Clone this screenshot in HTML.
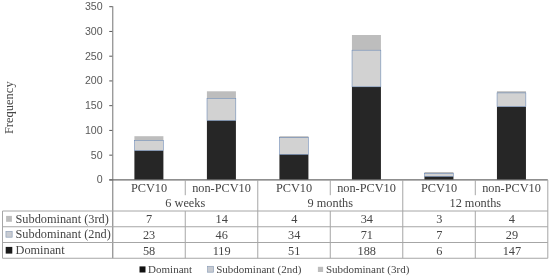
<!DOCTYPE html>
<html><head><meta charset="utf-8"><title>chart</title>
<style>html,body{margin:0;padding:0;background:#fff}svg{display:block}text{font-family:"Liberation Serif",serif}.s{font-family:"Liberation Sans",sans-serif}</style></head><body>
<svg width="550" height="278" viewBox="0 0 550 278" style="filter:blur(0.42px)">
<rect width="550" height="278" fill="#fff"/>
<rect x="134.40" y="136.20" width="29.0" height="4.50" fill="#bdbdbd"/>
<rect x="134.40" y="150.50" width="29.0" height="29.40" fill="#262626"/>
<rect x="134.50" y="140.40" width="28.8" height="10.10" fill="#d2d2d2" stroke="#6585b3" stroke-width="0.55"/>
<rect x="206.91" y="91.30" width="29.0" height="7.40" fill="#bdbdbd"/>
<rect x="206.91" y="120.40" width="29.0" height="59.50" fill="#262626"/>
<rect x="207.01" y="98.40" width="28.8" height="22.00" fill="#d2d2d2" stroke="#6585b3" stroke-width="0.55"/>
<rect x="279.42" y="136.20" width="29.0" height="1.80" fill="#bdbdbd"/>
<rect x="279.42" y="154.30" width="29.0" height="25.60" fill="#262626"/>
<rect x="279.52" y="137.70" width="28.8" height="16.60" fill="#d2d2d2" stroke="#6585b3" stroke-width="0.55"/>
<rect x="351.93" y="35.00" width="29.0" height="15.50" fill="#bdbdbd"/>
<rect x="351.93" y="86.80" width="29.0" height="93.10" fill="#262626"/>
<rect x="352.03" y="50.20" width="28.8" height="36.60" fill="#d2d2d2" stroke="#6585b3" stroke-width="0.55"/>
<rect x="424.44" y="172.00" width="29.0" height="1.80" fill="#bdbdbd"/>
<rect x="424.44" y="176.30" width="29.0" height="3.60" fill="#262626"/>
<rect x="424.54" y="173.50" width="28.8" height="2.80" fill="#d2d2d2" stroke="#6585b3" stroke-width="0.55"/>
<rect x="496.95" y="91.20" width="29.0" height="2.00" fill="#bdbdbd"/>
<rect x="496.95" y="106.60" width="29.0" height="73.30" fill="#262626"/>
<rect x="497.05" y="92.90" width="28.8" height="13.70" fill="#d2d2d2" stroke="#6585b3" stroke-width="0.55"/>
<line x1="109.25" y1="179.90" x2="112.75" y2="179.90" stroke="#595959" stroke-width="1"/>
<text class="s" x="102.6" y="183.35" font-size="10.6" text-anchor="end" fill="#595959">0</text>
<line x1="109.25" y1="155.16" x2="112.75" y2="155.16" stroke="#595959" stroke-width="1"/>
<text class="s" x="102.6" y="158.61" font-size="10.6" text-anchor="end" fill="#595959">50</text>
<line x1="109.25" y1="130.41" x2="112.75" y2="130.41" stroke="#595959" stroke-width="1"/>
<text class="s" x="102.6" y="133.86" font-size="10.6" text-anchor="end" fill="#595959">100</text>
<line x1="109.25" y1="105.67" x2="112.75" y2="105.67" stroke="#595959" stroke-width="1"/>
<text class="s" x="102.6" y="109.12" font-size="10.6" text-anchor="end" fill="#595959">150</text>
<line x1="109.25" y1="80.93" x2="112.75" y2="80.93" stroke="#595959" stroke-width="1"/>
<text class="s" x="102.6" y="84.38" font-size="10.6" text-anchor="end" fill="#595959">200</text>
<line x1="109.25" y1="56.19" x2="112.75" y2="56.19" stroke="#595959" stroke-width="1"/>
<text class="s" x="102.6" y="59.64" font-size="10.6" text-anchor="end" fill="#595959">250</text>
<line x1="109.25" y1="31.44" x2="112.75" y2="31.44" stroke="#595959" stroke-width="1"/>
<text class="s" x="102.6" y="34.89" font-size="10.6" text-anchor="end" fill="#595959">300</text>
<line x1="109.25" y1="6.70" x2="112.75" y2="6.70" stroke="#595959" stroke-width="1"/>
<text class="s" x="102.6" y="10.15" font-size="10.6" text-anchor="end" fill="#595959">350</text>
<line x1="112.75" y1="6.2" x2="112.75" y2="258.25" stroke="#8a8a8a" stroke-width="1.2"/>
<line x1="109.25" y1="179.9" x2="547.8" y2="179.9" stroke="#6a6a6a" stroke-width="1.4"/>
<line x1="2.5" y1="211.0" x2="547.8" y2="211.0" stroke="#a6a6a6" stroke-width="1"/>
<line x1="2.5" y1="226.75" x2="547.8" y2="226.75" stroke="#a6a6a6" stroke-width="1"/>
<line x1="2.5" y1="242.5" x2="547.8" y2="242.5" stroke="#a6a6a6" stroke-width="1"/>
<line x1="2.5" y1="258.25" x2="547.8" y2="258.25" stroke="#a6a6a6" stroke-width="1"/>
<line x1="2.5" y1="211.0" x2="2.5" y2="258.25" stroke="#a6a6a6" stroke-width="1"/>
<line x1="185.26" y1="179.9" x2="185.26" y2="195.2" stroke="#a6a6a6" stroke-width="1"/>
<line x1="185.26" y1="211.0" x2="185.26" y2="258.25" stroke="#a6a6a6" stroke-width="1"/>
<line x1="257.77" y1="179.9" x2="257.77" y2="258.25" stroke="#a6a6a6" stroke-width="1"/>
<line x1="330.27" y1="179.9" x2="330.27" y2="195.2" stroke="#a6a6a6" stroke-width="1"/>
<line x1="330.27" y1="211.0" x2="330.27" y2="258.25" stroke="#a6a6a6" stroke-width="1"/>
<line x1="402.78" y1="179.9" x2="402.78" y2="258.25" stroke="#a6a6a6" stroke-width="1"/>
<line x1="475.29" y1="179.9" x2="475.29" y2="195.2" stroke="#a6a6a6" stroke-width="1"/>
<line x1="475.29" y1="211.0" x2="475.29" y2="258.25" stroke="#a6a6a6" stroke-width="1"/>
<line x1="547.80" y1="179.9" x2="547.80" y2="258.25" stroke="#a6a6a6" stroke-width="1"/>
<text x="149.00" y="191.6" font-size="12.3" text-anchor="middle" fill="#454545">PCV10</text>
<text x="221.51" y="191.6" font-size="12.3" text-anchor="middle" fill="#454545">non-PCV10</text>
<text x="294.02" y="191.6" font-size="12.3" text-anchor="middle" fill="#454545">PCV10</text>
<text x="366.53" y="191.6" font-size="12.3" text-anchor="middle" fill="#454545">non-PCV10</text>
<text x="439.04" y="191.6" font-size="12.3" text-anchor="middle" fill="#454545">PCV10</text>
<text x="511.55" y="191.6" font-size="12.3" text-anchor="middle" fill="#454545">non-PCV10</text>
<text x="185.26" y="207" font-size="12.3" text-anchor="middle" fill="#454545">6 weeks</text>
<text x="330.27" y="207" font-size="12.3" text-anchor="middle" fill="#454545">9 months</text>
<text x="475.29" y="207" font-size="12.3" text-anchor="middle" fill="#454545">12 months</text>
<text x="149.10" y="222.7" font-size="12.3" text-anchor="middle" fill="#454545">7</text>
<text x="221.66" y="222.7" font-size="12.3" text-anchor="middle" fill="#454545">14</text>
<text x="294.22" y="222.7" font-size="12.3" text-anchor="middle" fill="#454545">4</text>
<text x="366.78" y="222.7" font-size="12.3" text-anchor="middle" fill="#454545">34</text>
<text x="439.34" y="222.7" font-size="12.3" text-anchor="middle" fill="#454545">3</text>
<text x="511.90" y="222.7" font-size="12.3" text-anchor="middle" fill="#454545">4</text>
<text x="15.5" y="222.6" font-size="12.3" fill="#454545">Subdominant (3rd)</text>
<text x="149.10" y="238.6" font-size="12.3" text-anchor="middle" fill="#454545">23</text>
<text x="221.66" y="238.6" font-size="12.3" text-anchor="middle" fill="#454545">46</text>
<text x="294.22" y="238.6" font-size="12.3" text-anchor="middle" fill="#454545">34</text>
<text x="366.78" y="238.6" font-size="12.3" text-anchor="middle" fill="#454545">71</text>
<text x="439.34" y="238.6" font-size="12.3" text-anchor="middle" fill="#454545">7</text>
<text x="511.90" y="238.6" font-size="12.3" text-anchor="middle" fill="#454545">29</text>
<text x="15.5" y="238.15" font-size="12.3" fill="#454545">Subdominant (2nd)</text>
<text x="149.10" y="254.7" font-size="12.3" text-anchor="middle" fill="#454545">58</text>
<text x="221.66" y="254.7" font-size="12.3" text-anchor="middle" fill="#454545">119</text>
<text x="294.22" y="254.7" font-size="12.3" text-anchor="middle" fill="#454545">51</text>
<text x="366.78" y="254.7" font-size="12.3" text-anchor="middle" fill="#454545">188</text>
<text x="439.34" y="254.7" font-size="12.3" text-anchor="middle" fill="#454545">6</text>
<text x="511.90" y="254.7" font-size="12.3" text-anchor="middle" fill="#454545">147</text>
<text x="15.5" y="254.2" font-size="12.3" fill="#454545">Dominant</text>
<rect x="6.1" y="215.9" width="5.8" height="5.9" fill="#bdbdbd"/>
<rect x="5.95" y="231.5" width="6.2" height="5.7" fill="#c9ccd2" stroke="#8a9cb6" stroke-width="0.65"/>
<rect x="5.7" y="246.9" width="6.6" height="6.7" fill="#1a1a1a"/>
<text transform="translate(13.3,134.1) rotate(-90)" font-size="12.5" fill="#454545">Frequency</text>
<rect x="139.5" y="266.4" width="6.0" height="6.1" fill="#111"/>
<text x="148.1" y="272.85" font-size="11" fill="#454545">Dominant</text>
<rect x="207.6" y="266.3" width="5.9" height="5.9" fill="#c6cad1" stroke="#8a9cb6" stroke-width="0.65"/>
<text x="216.2" y="272.85" font-size="11" fill="#454545">Subdominant (2nd)</text>
<rect x="317.9" y="266.8" width="5.2" height="5.2" fill="#bdbdbd"/>
<text x="325.9" y="272.85" font-size="11" fill="#454545">Subdominant (3rd)</text>
</svg></body></html>
